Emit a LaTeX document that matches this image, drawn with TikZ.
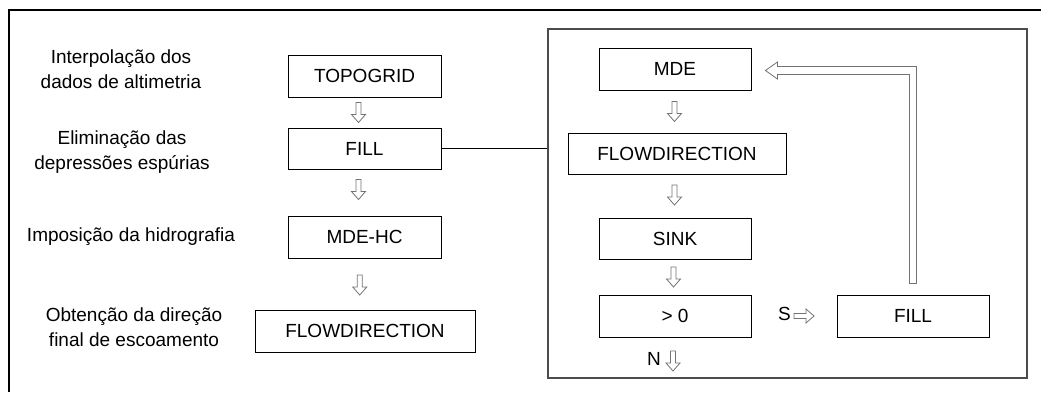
\documentclass[tikz,border=0pt]{standalone}
\usepackage{fontspec}
\setmainfont{Liberation Sans}
\usetikzlibrary{calc}
\tikzset{
  lbl/.style={align=center, inner sep=0pt, font=\fontsize{19}{25}\selectfont},
  box/.style={draw=black, line width=0.9pt, inner sep=0pt, font=\fontsize{19}{25}\selectfont},
  arrowline/.style={draw=black!55, line width=0.8pt, fill=white, line join=miter},
  darr/.pic={\draw[arrowline] (-2.5,-10) -- (2.5,-10) -- (2.5,2) -- (7,2) -- (0,10) -- (-7,2) -- (-2.5,2) -- cycle;}
}
\begin{document}
\begin{tikzpicture}[x=1pt, y=-1pt]
\useasboundingbox (0,0) rectangle (1041,392);
% outer frame (right and bottom fall outside the picture)
\draw[line width=2pt] (1041,10) -- (9,10) -- (9,392);

% left column
\node[lbl] (l1) at (121,69.5) {Interpolação dos\\dados de altimetria};
\node[lbl] (l2) at (122,152) {Eliminação das\\depressões espúrias};
\node[lbl] (l3) at (131,237) {Imposição da hidrografia};
\node[lbl] (l4) at (134,327) {Obtenção da direção\\final de escoamento};

\node[box, minimum width=153pt, minimum height=42pt] (topogrid) at (364.5,76) {TOPOGRID};
\node[box, minimum width=153pt, minimum height=41pt] (fillL) at (364.5,148.5) {FILL};
\node[box, minimum width=153pt, minimum height=42pt] (mdehc) at (364.5,237) {MDE-HC};
\node[box, minimum width=220pt, minimum height=42pt] (flowL) at (365,331) {FLOWDIRECTION};

\pic at ($(topogrid.south)!0.5!(fillL.north)+(-6,0)$) {darr};
\pic at ($(fillL.south)!0.5!(mdehc.north)+(-6,-3)$) {darr};
\pic at ($(mdehc.south)!0.5!(flowL.north)+(-5,1)$) {darr};

% right sub-process frame
\node[draw=black!70, line width=1.2pt, minimum width=479pt, minimum height=349pt, inner sep=0pt] (inner) at (787.5,203.5) {};
\draw[line width=0.9pt] (fillL.east) -- (fillL.east -| inner.west);

\node[box, minimum width=152pt, minimum height=42pt] (mde) at (675,69) {MDE};
\node[box, minimum width=218pt, minimum height=41pt] (flowR) at (677,153.5) {FLOWDIRECTION};
\node[box, minimum width=152pt, minimum height=41pt] (sink) at (675,238.5) {SINK};
\node[box, minimum width=152pt, minimum height=42pt] (gt) at (675,316) {> 0};
\node[box, minimum width=152pt, minimum height=42pt] (fillR) at (913,316) {FILL};

\pic at ($(mde.south)!0.5!(flowR.north)+(-1.5,0)$) {darr};
\pic at ($(flowR.south)!0.5!(sink.north)+(-1.5,-1)$) {darr};
\pic at ($(sink.south)!0.5!(gt.north)+(-1.5,0)$) {darr};

% S / N decisions
\node[lbl, anchor=east] (s) at (791,314) {S};
\pic[rotate=90] at (804,316) {darr};
\node[lbl, anchor=east] (n) at (661,359) {N};
\pic at (673,361) {darr};

% feedback hollow arrow from FILL back to MDE
\coordinate (fbB) at ([yshift=11pt]fillR.north);
\coordinate (fbT) at ([xshift=14pt,yshift=-1.5pt]mde.east);
\draw[arrowline] ($(fbB)+(-3.5,0)$) |- ($(fbT)+(12,4)$) -- ++(0,4.5) -- (fbT)
  -- ($(fbT)+(12,-8.5)$) -- ++(0,4.5) -| ($(fbB)+(3.5,0)$) -- cycle;
\end{tikzpicture}
\end{document}
